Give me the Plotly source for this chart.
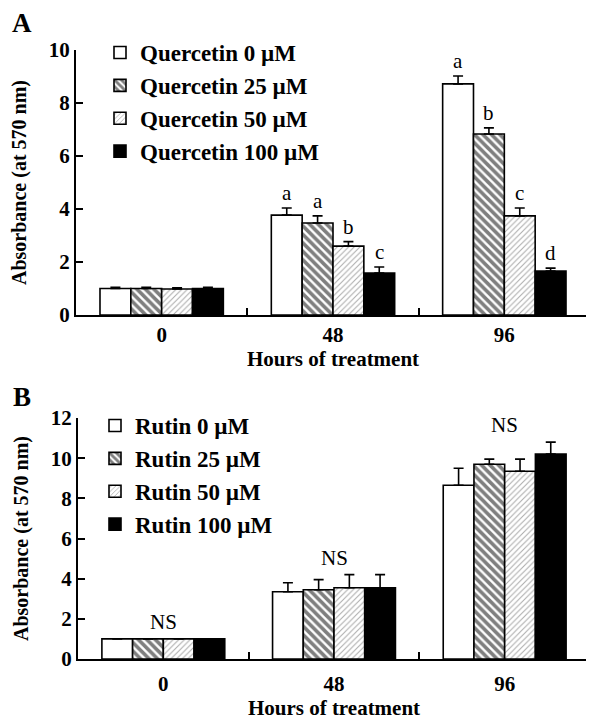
import plotly.graph_objects as go

W, H = 594, 719
OFF = 8  # page body margin in the browser

hours = ["0", "48", "96"]

# Panel A: Quercetin
q_labels = ["Quercetin 0 µM", "Quercetin 25 µM", "Quercetin 50 µM", "Quercetin 100 µM"]
q0 = [1.0, 3.77, 8.72]
q0_err = [0.05, 0.27, 0.30]
q25 = [1.0, 3.47, 6.83]
q25_err = [0.05, 0.27, 0.23]
q50 = [0.98, 2.60, 3.74]
q50_err = [0.05, 0.17, 0.30]
q100 = [1.0, 1.58, 1.66]
q100_err = [0.05, 0.23, 0.11]
q0_sig = ["", "a", "a"]
q25_sig = ["", "a", "b"]
q50_sig = ["", "b", "c"]
q100_sig = ["", "c", "d"]

# Panel B: Rutin
r_labels = ["Rutin 0 µM", "Rutin 25 µM", "Rutin 50 µM", "Rutin 100 µM"]
r0 = [1.0, 3.35, 8.65]
r0_err = [0.0, 0.45, 0.85]
r25 = [1.0, 3.45, 9.70]
r25_err = [0.0, 0.50, 0.25]
r50 = [1.0, 3.55, 9.35]
r50_err = [0.0, 0.65, 0.60]
r100 = [1.0, 3.55, 10.2]
r100_err = [0.0, 0.65, 0.60]
r_sig = ["NS", "NS", "NS"]

SERIF = "Liberation Serif, Times New Roman, serif"

styles = [
    dict(color="white", pattern=None),
    dict(color="white", pattern=dict(shape="\\", fgcolor="black", bgcolor="white", size=6, solidity=0.6)),
    dict(color="white", pattern=dict(shape="/", fgcolor="#555555", bgcolor="white", size=4, solidity=0.25)),
    dict(color="black", pattern=None),
]

fig = go.Figure()

bargap = 0.28
nser = 4
bw = (1 - bargap) / nser
offsets = [(-1.5 + i) * bw for i in range(nser)]

def add_panel(vals, errs, labels, xa, ya, legend):
    for i, (v, e, lab) in enumerate(zip(vals, errs, labels)):
        st = styles[i]
        marker = dict(color=st["color"], line=dict(color="black", width=1.6))
        if st["pattern"] is not None:
            marker["pattern"] = st["pattern"]
        fig.add_trace(go.Bar(
            x=hours, y=v, name="<b>" + lab + "</b>", marker=marker,
            xaxis=xa, yaxis=ya, legend=legend,
            error_y=dict(type="data", array=e, arrayminus=[0]*len(e), symmetric=False,
                         color="black", thickness=1.6, width=5),
        ))

add_panel([q0, q25, q50, q100], [q0_err, q25_err, q50_err, q100_err], q_labels, "x", "y", "legend")
add_panel([r0, r25, r50, r100], [r0_err, r25_err, r50_err, r100_err], r_labels, "x2", "y2", "legend2")

def px(x):
    return (x - OFF) / W

def py(y):
    return 1 - (y - OFF) / H

annotations = []
# significance letters panel A
for i, (v, e, sig) in enumerate(zip([q0, q25, q50, q100], [q0_err, q25_err, q50_err, q100_err],
                                    [q0_sig, q25_sig, q50_sig, q100_sig])):
    for g in range(len(hours)):
        if sig[g]:
            annotations.append(dict(x=g + offsets[i], y=v[g] + e[g], xref="x", yref="y",
                                    text=sig[g], showarrow=False, yanchor="bottom", yshift=1,
                                    font=dict(family=SERIF, size=21, color="black")))
# NS labels panel B
for g in range(len(hours)):
    top = max(s[g] + e[g] for s, e in zip([r0, r25, r50, r100], [r0_err, r25_err, r50_err, r100_err]))
    annotations.append(dict(x=g, y=top, xref="x2", yref="y2", text=r_sig[g], showarrow=False,
                            yanchor="bottom", yshift=3,
                            font=dict(family=SERIF, size=21, color="black")))
# panel letters
annotations.append(dict(x=px(10), y=py(6), xref="paper", yref="paper", text="<b>A</b>",
                        showarrow=False, xanchor="left", yanchor="top",
                        font=dict(family=SERIF, size=27, color="black")))
annotations.append(dict(x=px(11), y=py(380), xref="paper", yref="paper", text="<b>B</b>",
                        showarrow=False, xanchor="left", yanchor="top",
                        font=dict(family=SERIF, size=27, color="black")))

def xcommon(standoff, tls):
    return dict(type="category", showline=True, linecolor="black", linewidth=2, automargin=False,
                ticks="inside", ticklen=7, tickwidth=2, tickcolor="black", tickson="boundaries",
                ticklabelstandoff=tls,
                tickfont=dict(family=SERIF, size=21, color="black"), showgrid=False, zeroline=False,
                title=dict(text="<b>Hours of treatment</b>", font=dict(family=SERIF, size=21, color="black"),
                           standoff=standoff))

ycommon = dict(showline=True, linecolor="black", linewidth=2, ticks="inside", ticklen=7, tickwidth=2,
               tickcolor="black", tickfont=dict(family=SERIF, size=21, color="black"), automargin=False,
               showgrid=False, zeroline=False, dtick=2,
               title=dict(text="<b>Absorbance (at 570 nm)</b>", font=dict(family=SERIF, size=20, color="black"),
                          standoff=17))

legcommon = dict(font=dict(family=SERIF, size=23, color="black"), bgcolor="rgba(0,0,0,0)",
                 xanchor="left", yanchor="top", itemwidth=30, tracegroupgap=0)

fig.update_layout(
    width=W, height=H, margin=dict(l=0, r=0, t=0, b=0, autoexpand=False),
    paper_bgcolor="white", plot_bgcolor="white",
    barmode="group", bargap=bargap, bargroupgap=0,
    xaxis=dict(domain=[px(76), px(590)], anchor="y", **xcommon(2, 0)),
    yaxis=dict(domain=[py(315), py(50)], anchor="x", range=[0, 10],
               tickvals=[0, 2, 4, 6, 8, 10], ticktext=["<b>0</b>", "<b>2</b>", "<b>4</b>", "<b>6</b>", "<b>8</b>", "<b>10</b>"],
               **ycommon),
    xaxis2=dict(domain=[px(78), px(590)], anchor="y2", **xcommon(5, 5)),
    yaxis2=dict(domain=[py(659), py(418)], anchor="x2", range=[0, 12],
                tickvals=[0, 2, 4, 6, 8, 10, 12],
                ticktext=["<b>0</b>", "<b>2</b>", "<b>4</b>", "<b>6</b>", "<b>8</b>", "<b>10</b>", "<b>12</b>"],
                **ycommon),
    legend=dict(x=px(100), y=py(31), **legcommon),
    legend2=dict(x=px(95), y=py(404), **legcommon),
    annotations=annotations,
    showlegend=True,
)
fig.update_xaxes(tickvals=hours, ticktext=["<b>" + h + "</b>" for h in hours])

fig.write_html("out.html")
